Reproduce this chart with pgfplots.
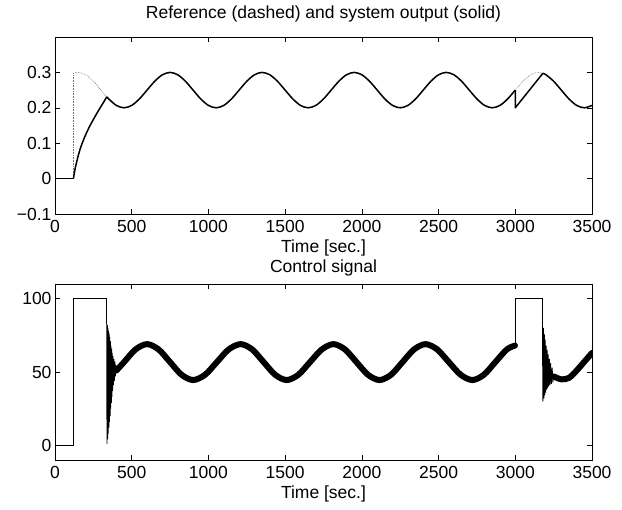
\documentclass[border=0pt]{standalone}
\usepackage{fontspec}
\setmainfont{Liberation Sans}
\usepackage{pgfplots}
\pgfplotsset{compat=1.18}

\pgfplotsset{
  matlab/.style={
    width=537bp, height=176bp, scale only axis,
    xmin=0, xmax=3500, xtick={0,500,...,3500},
    tick align=inside, major tick length=5bp,
    tick style={black, line width=0.5bp},
    axis line style={black, line width=0.7bp},
    ticklabel style={font=\fontsize{17.5bp}{19bp}\selectfont},
    xticklabel style={yshift=-3bp},
    label style={font=\fontsize{17.5bp}{19bp}\selectfont},
    title style={font=\fontsize{17.5bp}{19bp}\selectfont},
    /pgf/number format/assume math mode=true,
    /pgf/number format/set thousands separator={},
    xlabel={Time [sec.]},
    anchor=south west,
  },
  ref/.style={black!55, densely dotted, line width=0.6bp},
  out/.style={black, line width=1.5bp, line join=round},
  thin/.style={black, line width=0.6bp},
  jag/.style={black, line width=0.9bp},
  band/.style={black, line width=6bp, line cap=round, line join=round, smooth},
}

\begin{document}
\begin{tikzpicture}
\path[use as bounding box] (0bp,0bp) rectangle (622bp,510bp);

% ---- top: reference and output
\begin{axis}[matlab, at={(55bp,296bp)}, height=177bp,
  ymin=-0.1, ymax=0.4, ytick={-0.1,0,0.1,0.2,0.3},
  yticklabels={−0.1,0,0.1,0.2,0.3},
  title={Reference (dashed) and system output (solid)},
  title style={yshift=5bp}]
% reference
\addplot[ref] coordinates {(0,0) (120,0) (120,0.2976)};
\addplot[ref, smooth] coordinates {
 (120,0.2976) (150,0.3) (200,0.2933) (250,0.275) (300,0.25) (350,0.225) (400,0.2067) (450,0.2)
 (500,0.2067) (550,0.225) (600,0.25) (650,0.275) (700,0.2933) (750,0.3) (800,0.2933) (850,0.275)
 (900,0.25) (950,0.225) (1000,0.2067) (1050,0.2) (1100,0.2067) (1150,0.225) (1200,0.25) (1250,0.275)
 (1300,0.2933) (1350,0.3) (1400,0.2933) (1450,0.275) (1500,0.25) (1550,0.225) (1600,0.2067) (1650,0.2)
 (1700,0.2067) (1750,0.225) (1800,0.25) (1850,0.275) (1900,0.2933) (1950,0.3) (2000,0.2933) (2050,0.275)
 (2100,0.25) (2150,0.225) (2200,0.2067) (2250,0.2) (2300,0.2067) (2350,0.225) (2400,0.25) (2450,0.275)
 (2500,0.2933) (2550,0.3) (2600,0.2933) (2650,0.275) (2700,0.25) (2750,0.225) (2800,0.2067) (2850,0.2)
 (2900,0.2067) (2950,0.225) (3000,0.25) (3050,0.275) (3100,0.2933) (3150,0.3) (3200,0.2933) (3250,0.275)
 (3300,0.25) (3350,0.225) (3400,0.2067) (3450,0.2) (3500,0.2067)};
% output
\addplot[out] coordinates {(0,0) (120,0)};
\addplot[out, smooth] coordinates {
 (120,0) (130,0.025) (140,0.045) (160,0.078) (180,0.103) (200,0.124) (225,0.147) (250,0.167)
 (275,0.186) (300,0.204) (320,0.218) (337,0.231)};
\addplot[out, smooth] coordinates {
 (337,0.231) (350,0.225) (400,0.2067) (450,0.2)
 (500,0.2067) (550,0.225) (600,0.25) (650,0.275) (700,0.2933) (750,0.3) (800,0.2933) (850,0.275)
 (900,0.25) (950,0.225) (1000,0.2067) (1050,0.2) (1100,0.2067) (1150,0.225) (1200,0.25) (1250,0.275)
 (1300,0.2933) (1350,0.3) (1400,0.2933) (1450,0.275) (1500,0.25) (1550,0.225) (1600,0.2067) (1650,0.2)
 (1700,0.2067) (1750,0.225) (1800,0.25) (1850,0.275) (1900,0.2933) (1950,0.3) (2000,0.2933) (2050,0.275)
 (2100,0.25) (2150,0.225) (2200,0.2067) (2250,0.2) (2300,0.2067) (2350,0.225) (2400,0.25) (2450,0.275)
 (2500,0.2933) (2550,0.3) (2600,0.2933) (2650,0.275) (2700,0.25) (2750,0.225) (2800,0.2067) (2850,0.2)
 (2900,0.2067) (2950,0.225) (3000,0.25)};
\addplot[out] coordinates {(3000,0.25) (3000,0.2) (3180,0.2976)};
\addplot[out, smooth] coordinates {
 (3180,0.2976) (3200,0.2933) (3250,0.275) (3300,0.25) (3350,0.225) (3400,0.2067) (3450,0.2) (3500,0.2067)};
\end{axis}

% ---- bottom: control signal
\begin{axis}[matlab, at={(55bp,50bp)},
  ymin=-10, ymax=110, ytick={0,50,100},
  title={Control signal}, title style={yshift=-2bp}]
\addplot[thin] coordinates {(0,0) (120,0) (120,100) (337,100) (337,83)};
\addplot[jag] coordinates {
 (337,83) (339,1) (341,82) (343,4) (345,80) (347,8) (349,78) (351,12) (353,76) (355,16) (357,74)
 (359,20) (361,71) (363,25) (365,68) (367,29) (369,66) (371,33) (373,63) (375,37) (378,61) (381,41)
 (384,59) (387,44) (390,57) (393,47) (396,55) (400,51)};
\addplot[band] coordinates {
 (400,51) (450,56.75) (525,65.4) (600,69) (675,65.4) (750,56.75) (825,48.1) (900,44.5)
 (978,48.1) (1055,56.75) (1132,65.4) (1210,69) (1285,65.4) (1360,56.75) (1435,48.1) (1510,44.5)
 (1586,48.1) (1662,56.75) (1739,65.4) (1815,69) (1890,65.4) (1965,56.75) (2040,48.1) (2115,44.5)
 (2190,48.1) (2265,56.75) (2340,65.4) (2415,69) (2491,65.4) (2567,56.75) (2644,48.1) (2720,44.5)
 (2795,48.1) (2870,56.75) (2945,65.4) (2998,68)};
\addplot[thin] coordinates {(3000,68) (3000,100) (3177,100) (3177,83)};
\addplot[jag] coordinates {
 (3177,83) (3180,30) (3183,80) (3186,32) (3189,76) (3192,34) (3195,72) (3198,36) (3201,68) (3204,38)
 (3207,65) (3210,39) (3214,62) (3218,40) (3222,59) (3226,41) (3230,56) (3235,42) (3240,53) (3245,43)
 (3250,48)};
\addplot[band] coordinates {
 (3250,47) (3300,45) (3350,46) (3400,51) (3450,57) (3500,63)};
\end{axis}
\end{tikzpicture}
\end{document}
